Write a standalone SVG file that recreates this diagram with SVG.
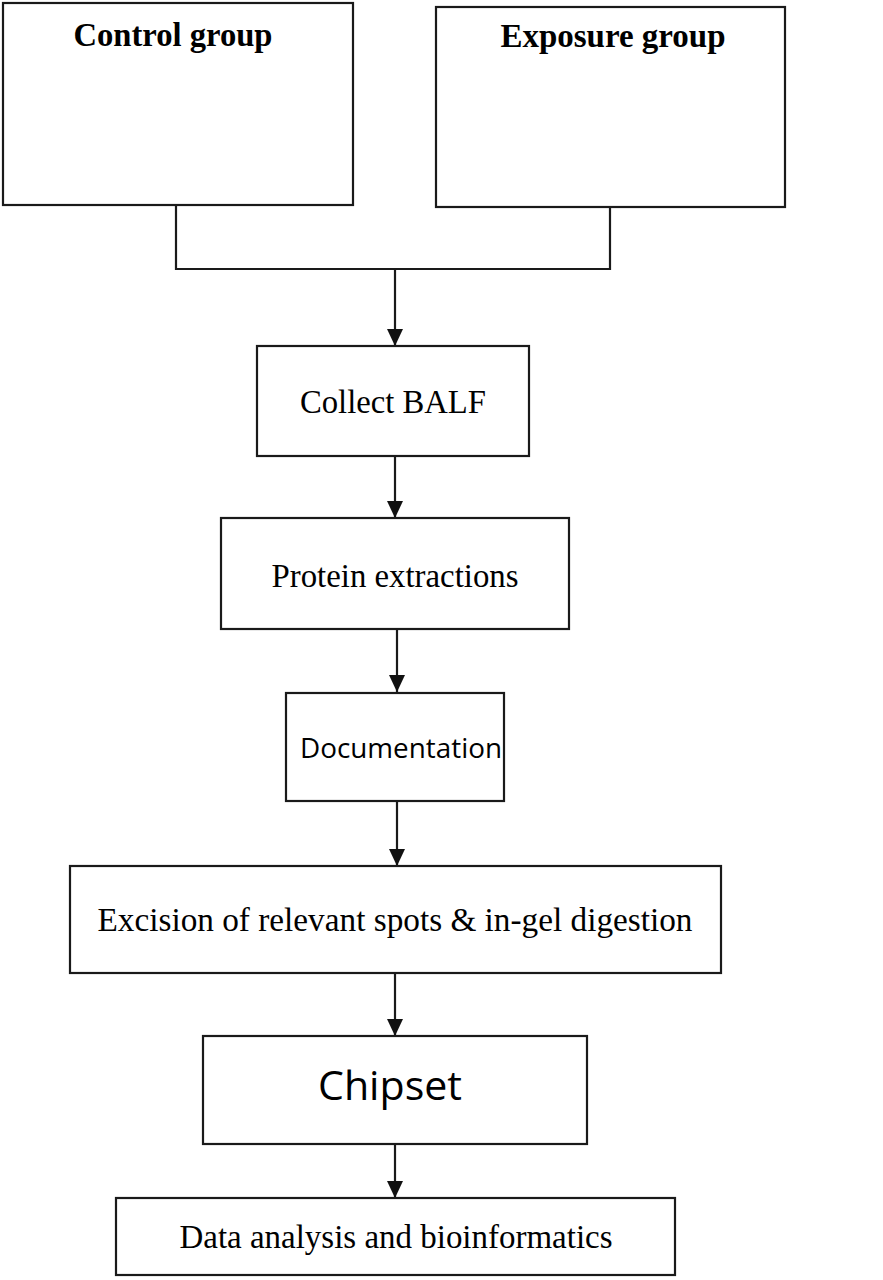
<svg xmlns="http://www.w3.org/2000/svg" width="883" height="1280" viewBox="0 0 883 1280">
<style>
.box{fill:#fff;stroke:#1a1a1a;stroke-width:2.2}
.ln{fill:none;stroke:#1a1a1a;stroke-width:2.2}
.tm{font-family:'Liberation Serif','Times New Roman',Times,serif;font-size:33px;fill:#000;text-anchor:middle}
.tb{font-family:'Liberation Serif','Times New Roman',Times,serif;font-size:34px;font-weight:bold;fill:#000;text-anchor:middle}
.cal{font-family:'Open Sans','Noto Sans',sans-serif;fill:#000;text-anchor:middle}
</style>
<defs>
<marker id="ah" markerWidth="16" markerHeight="17" refX="17" refY="8" orient="auto" markerUnits="userSpaceOnUse">
<path d="M0,0 L17,8 L0,16 Z" fill="#111"/>
</marker>
</defs>
<rect width="883" height="1280" fill="#fff"/>
<g id="connectors">
<polyline class="ln" points="176,205 176,269 610,269 610,207"/>
<line class="ln" x1="395" y1="269" x2="395" y2="346" marker-end="url(#ah)"/>
<line class="ln" x1="395" y1="456" x2="395" y2="518" marker-end="url(#ah)"/>
<line class="ln" x1="397" y1="629" x2="397" y2="692" marker-end="url(#ah)"/>
<line class="ln" x1="397" y1="801" x2="397" y2="866" marker-end="url(#ah)"/>
<line class="ln" x1="395" y1="973" x2="395" y2="1036" marker-end="url(#ah)"/>
<line class="ln" x1="395" y1="1144" x2="395" y2="1198" marker-end="url(#ah)"/>
</g>
<g id="control">
<rect class="box" x="3" y="3" width="350" height="202"/>
<text class="tb" x="173" y="46" textLength="199" lengthAdjust="spacingAndGlyphs">Control group</text>
</g>
<g id="exposure">
<rect class="box" x="436" y="7" width="349" height="200"/>
<text class="tb" x="613" y="47" textLength="225" lengthAdjust="spacingAndGlyphs">Exposure group</text>
</g>
<g id="collect">
<rect class="box" x="257" y="346" width="272" height="110"/>
<text class="tm" x="393" y="413" textLength="186" lengthAdjust="spacingAndGlyphs">Collect BALF</text>
</g>
<g id="protein">
<rect class="box" x="221" y="518" width="348" height="111"/>
<text class="tm" x="395" y="587" textLength="247" lengthAdjust="spacingAndGlyphs">Protein extractions</text>
</g>
<g id="documentation">
<rect class="box" x="286" y="693" width="218" height="108"/>
<text class="cal" x="401" y="758" font-size="27" textLength="202" lengthAdjust="spacingAndGlyphs">Documentation</text>
</g>
<g id="excision">
<rect class="box" x="70" y="866" width="651" height="107"/>
<text class="tm" x="395" y="931" textLength="595" lengthAdjust="spacingAndGlyphs">Excision of relevant spots &amp; in-gel digestion</text>
</g>
<g id="chipset">
<rect class="box" x="203" y="1036" width="384" height="108"/>
<text class="cal" x="390" y="1100" font-size="41" textLength="144" lengthAdjust="spacingAndGlyphs">Chipset</text>
</g>
<g id="data">
<rect class="box" x="116" y="1198" width="559" height="77"/>
<text class="tm" x="396" y="1248" textLength="433" lengthAdjust="spacingAndGlyphs">Data analysis and bioinformatics</text>
</g>
</svg>
